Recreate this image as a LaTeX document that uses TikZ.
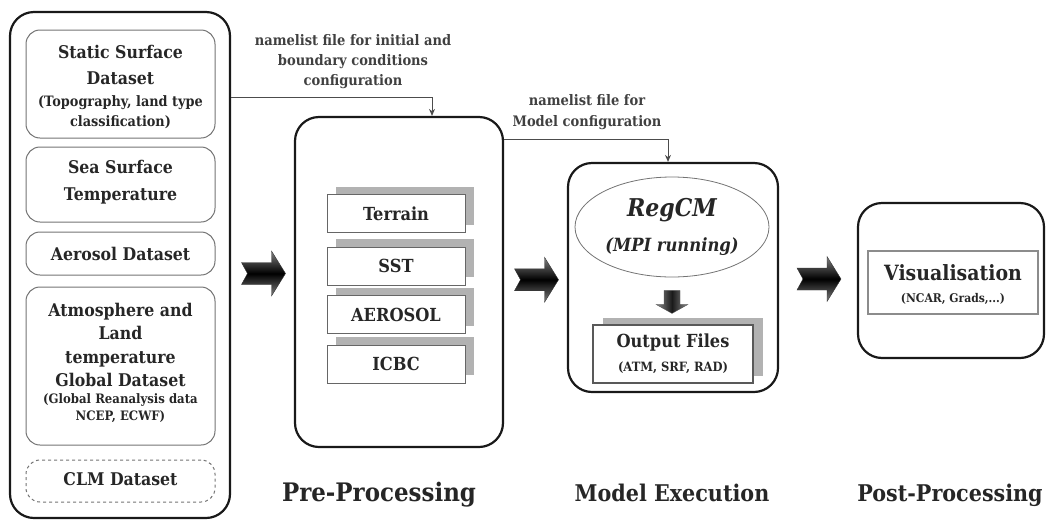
\documentclass[tikz,border=0pt]{standalone}
\usepackage{fontspec}
\setmainfont{DejaVu Serif}[FakeStretch=0.9]
\usetikzlibrary{arrows.meta,shapes.geometric,calc}
\newcommand\TFont{\fontsize{17.5}{26}\selectfont\bfseries}
\newcommand\SFont{\fontsize{14.3}{20}\selectfont\bfseries}
\newcommand\BigArrow[1]{%
  \shade[top color=black!50, bottom color=black!50, middle color=black, draw=black!80, line width=0.4pt]
    ($(#1)+(-21,-11)$) -- ++(30,0) -- ++(0,-11.5) -- ++(14,22.5) -- ++(-14,22.5) -- ++(0,-11.5) -- ++(-30,0) -- ++(6,-11) -- cycle;}
\begin{document}
\begin{tikzpicture}[x=1pt,y=-1pt,
  outerbox/.style={draw=black!90,line width=2.2pt,rounded corners=24pt},
  innerbox/.style={draw=black!55,line width=1pt,rounded corners=14pt},
  flatbox/.style={draw=black!60,line width=1pt,fill=white},
  shadowbox/.style={fill=black!30,draw=none},
  txt/.style={text=black!85,align=center,inner sep=0pt},
  conn/.style={draw=black!70,line width=0.9pt,-{Stealth[length=7pt,width=6pt]}},
  phase/.style={text=black!85,font=\fontsize{23}{26}\selectfont\bfseries,inner sep=0pt}]
\useasboundingbox (0,0) rectangle (1047,520);
% ---------- Source datasets ----------
\node[outerbox,minimum width=220,minimum height=506] (src) at (120,265) {};
\node[innerbox,minimum width=189,minimum height=108] (static) at (120.5,84) {};
\node[innerbox,minimum width=189,minimum height=75] (sst) at (120.5,184.5) {};
\node[innerbox,minimum width=189,minimum height=43] (aer) at (120.5,253.5) {};
\node[innerbox,minimum width=189,minimum height=158] (atm) at (120.5,366) {};
\node[innerbox,dashed,minimum width=189,minimum height=42] (clm) at (120.5,481) {};
\node[txt,font=\TFont] (staticT) at (120.5,65) {Static Surface\\Dataset};
\node[txt,font=\SFont] (staticS) at (120.5,112) {(Topography, land type\\classification)};
\node[txt,font=\fontsize{17.5}{27}\selectfont\bfseries] (sstT) at (120.5,182) {Sea Surface\\Temperature};
\node[txt,font=\TFont] (aerT) at (120.5,253.5) {Aerosol Dataset};
\node[txt,font=\fontsize{17.5}{23.5}\selectfont\bfseries] (atmT) at (120.5,345) {Atmosphere and\\Land\\temperature\\Global Dataset};
\node[txt,font=\fontsize{13}{17}\selectfont\bfseries] (atmS) at (120.5,408.5) {(Global Reanalysis data\\NCEP, ECWF)};
\node[txt,font=\TFont] (clmT) at (120.5,479) {CLM Dataset};
% ---------- Pre-processing ----------
\node[outerbox,minimum width=208,minimum height=330] (pre) at (399,282) {};
\foreach \n/\t/\y in {ter/Terrain/213.5, sstp/SST/266, aerp/AEROSOL/314.5, icbc/ICBC/364}{
  \node[shadowbox,minimum width=138,minimum height=38] (\n s) at (405,\y-8) {};
  \node[flatbox,minimum width=138,minimum height=38,font=\fontsize{18}{20}\selectfont\bfseries,text=black!85] (\n) at (396,\y) {\t};
}
% ---------- Model execution ----------
\node[outerbox,minimum width=210,minimum height=229] (model) at (673,277.5) {};
\node[ellipse,draw=black!55,line width=0.8pt,minimum width=194,minimum height=100] (regcm) at (672,227) {};
\node[txt,font=\fontsize{24.5}{28}\selectfont\bfseries\itshape] (regT) at (672,210) {RegCM};
\node[txt,font=\fontsize{18.2}{22}\selectfont\bfseries\itshape] (mpiT) at (672,247) {(MPI running)};
\shade[left color=black!45, right color=black!45, middle color=black!90, draw=black!70, line width=0.3pt]
  ($(regcm.south)+(-8,13)$) -- ++(16,0) -- ++(0,14) -- ++(8,0) -- ++(-16,9) -- ++(-16,-9) -- ++(8,0) -- cycle;
\node[shadowbox,minimum width=160,minimum height=58] (outs) at (683,347) {};
\node[flatbox,draw=black!65,line width=1.2pt,minimum width=160,minimum height=58] (out) at (673,354) {};
\node[txt,font=\fontsize{18}{22}\selectfont\bfseries] (outT) at (673,343) {Output Files};
\node[txt,font=\fontsize{12.8}{14}\selectfont\bfseries] (outS) at (673,368) {(ATM, SRF, RAD)};
% ---------- Post-processing ----------
\node[outerbox,minimum width=186,minimum height=155] (post) at (951,280.5) {};
\node[draw=black!45,line width=1.2pt,minimum width=170,minimum height=63] (vis) at (953,282.5) {};
\node[txt,font=\fontsize{21}{24}\selectfont\bfseries] (visT) at (953,273) {Visualisation};
\node[txt,font=\fontsize{12}{14}\selectfont\bfseries] (visS) at (953,299) {(NCAR, Grads,...)};
% ---------- Block arrows ----------
\BigArrow{$(src.east)!0.5!(pre.west)$ |- 0,274}
\BigArrow{$(pre.east)!0.5!(model.west)$ |- 0,280}
\BigArrow{$(model.east)!0.5!(post.west)$ |- 0,286}
% ---------- Connectors ----------
\node[txt,font=\fontsize{14.5}{20}\selectfont\bfseries,text=black!75] (lab1) at (353,62) {namelist file for initial and\\boundary conditions\\configuration};
\node[txt,font=\fontsize{14.5}{21}\selectfont\bfseries,text=black!75] (lab2) at (587,112) {namelist file for\\Model configuration};
\draw[conn] (src.east |- 0,97) -| ([xshift=33]pre.north);
\draw[conn] (pre.east |- 0,139) -| ([xshift=-5]model.north);
% ---------- Phase labels ----------
\node[phase,font=\fontsize{25.5}{28}\selectfont\bfseries] (p1) at (379,495) {Pre-Processing};
\node[phase] (p2) at (672,493) {Model Execution};
\node[phase] (p3) at (950,495) {Post-Processing};
\end{tikzpicture}
\end{document}
